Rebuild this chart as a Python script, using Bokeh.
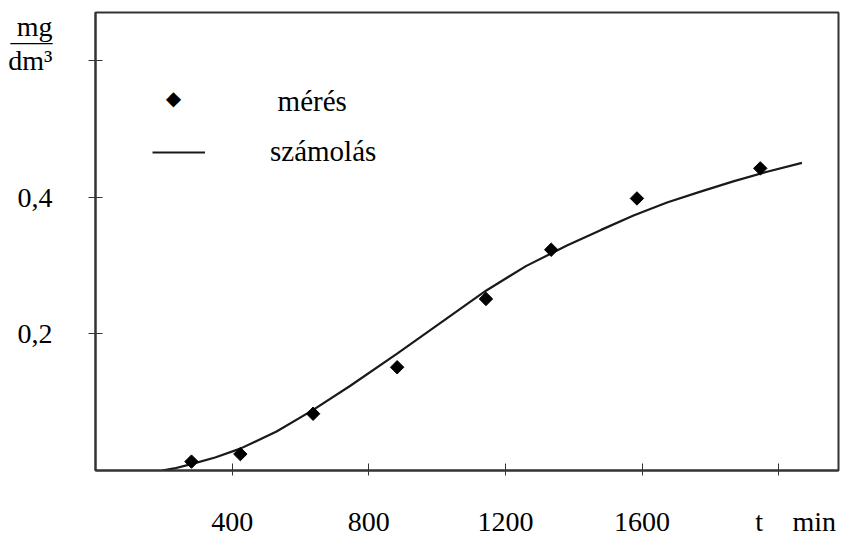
import numpy as np
from bokeh.plotting import figure
from bokeh.models import (Range1d, FixedTicker, Legend, LegendItem, Label,
                          LinearAxis)
from bokeh.embed import file_html
from bokeh.resources import INLINE

# measured values (mérés)
meas_t = [281, 424, 637, 883, 1143, 1334, 1585, 1946]
meas_c = [0.013, 0.024, 0.083, 0.151, 0.251, 0.323, 0.398, 0.442]

# calculated curve (számolás)
calc_t = [195, 230, 278, 350, 424, 530, 635, 746, 883, 1010, 1143, 1260, 1380,
          1480, 1575, 1673, 1771, 1867, 1966, 2068]
calc_c = [0.0, 0.003, 0.009, 0.019, 0.032, 0.057, 0.088, 0.124, 0.171, 0.216,
          0.263, 0.299, 0.329, 0.352, 0.373, 0.392, 0.408, 0.423, 0.437, 0.450]

# tick marks
x_ticks = [400, 800, 1200, 1600, 2000]
y_ticks = [0.2, 0.4, 0.6]
# tick labels (including the unit texts "t  min" and "mg / dm³")
x_label_pos = [400, 800, 1200, 1600, 1943, 2104]
x_label_txt = ["400", "800", "1200", "1600", "t", "min"]
y_label_pos = [0.2, 0.4, 0.600, 0.6285, 0.649]
y_label_txt = ["0,2", "0,4", "dm³", "—–", "mg"]

FONT = "Liberation Serif"
INK = "#1a1a1a"
FRAME = "#333333"

p = figure(width=842, height=540, output_backend="svg", toolbar_location=None,
           x_range=Range1d(0, 2175), y_range=Range1d(0, 0.670),
           min_border_left=95, min_border_right=4, min_border_top=12,
           min_border_bottom=70)
p.grid.visible = False
p.outline_line_color = FRAME
p.outline_line_width = 2
p.background_fill_color = "white"
p.border_fill_color = "white"


def tick_axis(ax, ticks, t_in, t_out):
    ax.ticker = FixedTicker(ticks=ticks)
    ax.major_label_overrides = {t: "" for t in ticks}
    ax.major_label_text_font_size = "0px"
    ax.major_label_standoff = 0
    ax.minor_tick_line_color = None
    ax.major_tick_in = t_in
    ax.major_tick_out = t_out
    ax.major_tick_line_color = FRAME
    ax.axis_line_color = FRAME
    ax.axis_line_width = 2


def label_axis(ax, pos, txt, standoff):
    ax.ticker = FixedTicker(ticks=pos)
    ax.major_label_overrides = dict(zip(pos, txt))
    ax.major_label_text_font = FONT
    ax.major_label_text_font_size = "28px"
    ax.major_label_text_color = "black"
    ax.major_label_standoff = standoff
    ax.minor_tick_line_color = None
    ax.major_tick_line_color = None
    ax.major_tick_in = 0
    ax.major_tick_out = 0
    ax.axis_line_color = None


tick_axis(p.xaxis[0], x_ticks, 7, 5)
tick_axis(p.yaxis[0], y_ticks, 7, 7)

xlab = LinearAxis()
label_axis(xlab, x_label_pos, x_label_txt, 30)
p.add_layout(xlab, "below")

ylab = LinearAxis()
label_axis(ylab, y_label_pos, y_label_txt, 36)
p.add_layout(ylab, "left")

line = p.line(calc_t, calc_c, line_color=INK, line_width=2.2)
pts = p.scatter(meas_t, meas_c, marker="square", angle=np.pi / 4, size=9.5,
                fill_color="black", line_color="black")

leg2 = Legend(items=[LegendItem(label="számolás", renderers=[line])],
              location=(57, 302), glyph_width=53, label_standoff=65,
              padding=0, margin=0, border_line_color=None,
              background_fill_alpha=0, label_text_font=FONT,
              label_text_font_size="29px", label_text_color="black",
              glyph_height=22, label_height=22)
p.add_layout(leg2)

# legend key for the measured points
p.add_layout(Label(x=228, y=0.545, text="◆", text_font="DejaVu Sans",
                   text_font_size="20px", text_align="center",
                   text_baseline="middle", text_color="black"))
p.add_layout(Label(x=533, y=0.541, text="mérés", text_font=FONT,
                   text_font_size="29px", text_align="left",
                   text_baseline="middle", text_color="black"))

open("out.html", "w").write(file_html(p, INLINE))
